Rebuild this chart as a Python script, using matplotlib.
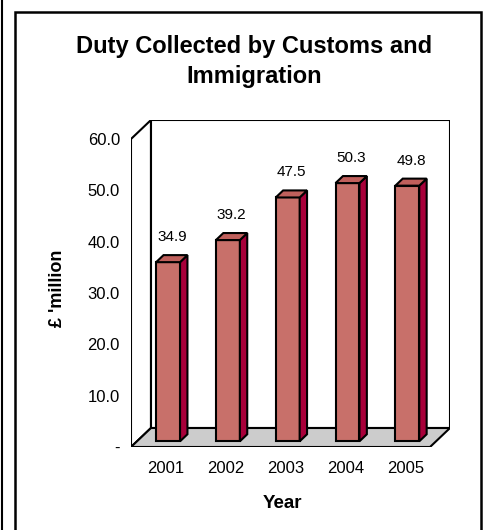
import matplotlib
matplotlib.use("Agg")
from matplotlib import pyplot as plt
from matplotlib.patches import Polygon, Rectangle
from matplotlib.lines import Line2D

plt.rcParams['font.family'] = ['Liberation Sans', 'DejaVu Sans']

years = ['2001', '2002', '2003', '2004', '2005']
duty = [34.9, 39.2, 47.5, 50.3, 49.8]
ytick_vals = [0, 10, 20, 30, 40, 50, 60]
ytick_labels = ['-', '10.0', '20.0', '30.0', '40.0', '50.0', '60.0']

front_col = '#c8706a'
top_col = '#c0605c'
side_col = '#a8003a'
floor_col = '#cccccc'

W, H = 488, 530
fig = plt.figure(figsize=(W / 100, H / 100), dpi=100)

# frames round the chart
fig.add_artist(Line2D([1.5 / W, 1.5 / W], [0, 1], color='black', lw=1.5))
fig.add_artist(Rectangle((15 / W, -0.05), 466 / W, 1.05 - 12 / H, transform=fig.transFigure,
                         fill=False, edgecolor='black', lw=1.8))

fig.text(254 / W, 1 - 47 / H, 'Duty Collected by Customs and', ha='center', va='center',
         fontsize=17, fontweight='bold')
fig.text(254 / W, 1 - 77 / H, 'Immigration', ha='center', va='center',
         fontsize=17, fontweight='bold')

# depth of the 3d box in data units
dx = 0.334
dy = 3.7
ymax = 60

ax = fig.add_axes([131 / W, (H - 447) / H, 319 / W, 327 / H])
ax.set_xlim(-0.5, len(years) - 0.5 + dx)
ax.set_ylim(0, ymax + dy)
for s in ax.spines.values():
    s.set_visible(False)
ax.patch.set_visible(False)

x0, x1 = -0.5, len(years) - 0.5
# left wall, back wall, floor
ax.add_patch(Polygon([(x0, 0), (x0 + dx, dy), (x0 + dx, ymax + dy), (x0, ymax)],
                     facecolor='white', edgecolor='black', lw=1.5, zorder=1))
ax.add_patch(Polygon([(x0 + dx, dy), (x1 + dx, dy), (x1 + dx, ymax + dy), (x0 + dx, ymax + dy)],
                     facecolor='white', edgecolor='black', lw=1.5, zorder=1))
ax.add_patch(Polygon([(x0, 0), (x1, 0), (x1 + dx, dy), (x0 + dx, dy)],
                     facecolor=floor_col, edgecolor='black', lw=1.5, zorder=2))

bw = 0.40
f0 = 0.30   # depth fraction of bar front
f1 = 0.67   # depth fraction of bar back
for i, v in enumerate(duty):
    xl = i - 0.18 + f0 * dx
    yb = f0 * dy
    ddx = (f1 - f0) * dx
    ddy = (f1 - f0) * dy
    ax.bar(xl, v, width=bw, bottom=yb, align='edge', color=front_col,
           edgecolor='black', lw=1.5, zorder=3)
    ax.add_patch(Polygon([(xl + bw, yb), (xl + bw + ddx, yb + ddy),
                          (xl + bw + ddx, yb + v + ddy), (xl + bw, yb + v)],
                         facecolor=side_col, edgecolor='black', lw=1.5, zorder=3))
    ax.add_patch(Polygon([(xl, yb + v), (xl + bw, yb + v), (xl + bw + ddx, yb + v + ddy),
                          (xl + ddx, yb + v + ddy)],
                         facecolor=top_col, edgecolor='black', lw=1.5, zorder=3))
    ax.annotate('%.1f' % v, (xl + (bw + ddx) / 2, yb + v + ddy), xytext=(0, 8),
                textcoords='offset points', ha='center', va='bottom', fontsize=11)

ax.set_yticks(ytick_vals)
ax.set_yticklabels(ytick_labels, fontsize=12)
ax.set_xticks([i + 0.085 for i in range(len(years))])
ax.set_xticklabels(years, fontsize=12)
ax.tick_params(axis='y', length=0, pad=8)
ax.tick_params(axis='x', length=0, pad=10)

fig.text(282 / W, 1 - 503 / H, 'Year', ha='center', va='center', fontsize=13.5, fontweight='bold')
fig.text(57 / W, 1 - 288 / H, "£ 'million", ha='center', va='center', rotation=90,
         fontsize=13, fontweight='bold')

fig.savefig('out.png', dpi=100)
